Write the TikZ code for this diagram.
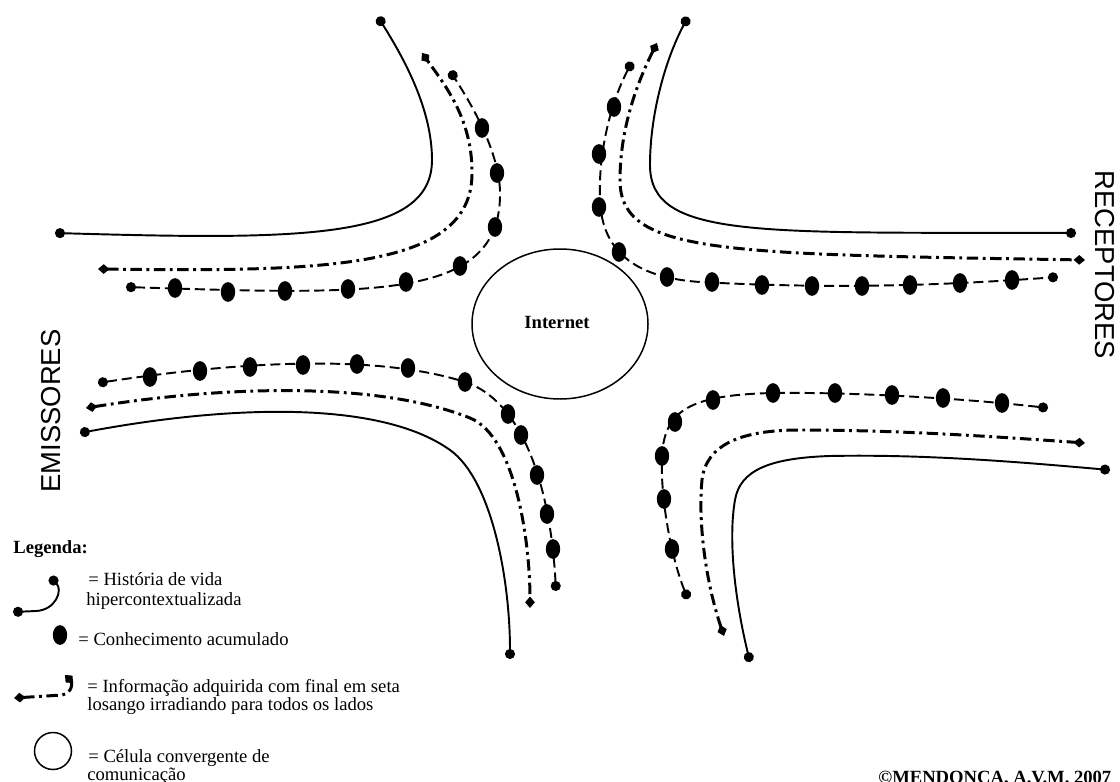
\documentclass[tikz,border=0pt]{standalone}
\usepackage{fontspec}
\setmainfont{Liberation Serif}
\newfontfamily\capsfont{Liberation Sans}
\usetikzlibrary{arrows.meta,shapes.geometric}
\newcommand{\legtext}{\fontsize{10.6pt}{12pt}\selectfont}
\newcommand{\sidetext}{\fontsize{15.6pt}{18pt}\selectfont\capsfont}
\tikzset{
  history/.style={line width=1.1pt,{Circle[length=5.7pt]}-{Circle[length=5.7pt]}},
  info/.style={line width=1.7pt,dash pattern=on 6.5pt off 2.6pt on 1.6pt off 2.6pt,
    {Diamond[length=6.5pt,width=5.5pt]}-{Diamond[length=6.5pt,width=5.5pt]}},
  knowledge/.style={line width=1.1pt,dash pattern=on 5.7pt off 2.8pt,
    {Circle[length=5.7pt]}-{Circle[length=5.7pt]}},
  bigdot/.style={fill,ellipse,inner sep=0pt,minimum width=8.2pt,minimum height=11.2pt},
  legend/.style={anchor=base west,inner sep=0pt,font=\legtext},
}
\begin{document}
\begin{tikzpicture}[scale=0.2]
\useasboundingbox (0,0) rectangle (112,-78.2);
% central cell
\node[draw,ellipse,line width=0.85pt,minimum width=35.2mm,minimum height=30mm] (net) at (56.0,-32.4) {};
\node[font=\legtext\bfseries] (netlabel) at (55.7,-32.2) {Internet};
% upper left
\coordinate (ulh1) at (5.5,-23.3);
\coordinate (ulh2) at (43.2,-16.0);
\coordinate (ulh3) at (37.8,-1.7);
\draw[history] (ulh1) .. controls (30,-24.0) and (43.2,-24.0) .. (ulh2) .. controls (43.2,-11.0) and (40.5,-6.0) .. (ulh3);
\coordinate (uli1) at (9.8,-26.9);
\coordinate (uli2) at (47.2,-17.5);
\coordinate (uli3) at (42.2,-5.3);
\draw[info] (uli1) .. controls (33,-27.2) and (47,-26.8) .. (uli2) .. controls (47.3,-12) and (44.5,-8.5) .. (uli3);
\coordinate (ulk1) at (12.6,-28.7);
\coordinate (ulk2) at (50.0,-19.0);
\coordinate (ulk3) at (45.0,-7.1);
\draw[knowledge] (ulk1) .. controls (38.0,-29.5) and (50.3,-30.0) .. (ulk2) .. controls (49.8,-15.0) and (47.2,-10.5) .. (ulk3);
\foreach \p in {{17.5,-28.8},{22.8,-29.2},{28.5,-29.1},{34.8,-28.9},{40.6,-28.2},{46.0,-26.6},{49.5,-22.7},{49.7,-17.3},{48.2,-12.8}}
  \node[bigdot] at (\p) {};
% upper right
\coordinate (urh1) at (68.8,-1.7);
\coordinate (urh2) at (65.0,-16.5);
\coordinate (urh3) at (107.6,-23.3);
\draw[history] (urh1) .. controls (66.5,-6.0) and (65.0,-11.5) .. (urh2) .. controls (65.0,-24.0) and (76,-23.2) .. (urh3);
\coordinate (uri1) at (65.7,-4.3);
\coordinate (uri2) at (62.0,-18.0);
\coordinate (uri3) at (108.5,-26.0);
\draw[info] (uri1) .. controls (63.6,-8.5) and (62.0,-13.0) .. (uri2) .. controls (62.0,-25.4) and (72,-25.4) .. (uri3);
\coordinate (urk1) at (63.2,-6.2);
\coordinate (urk2) at (60.0,-20.0);
\coordinate (urk3) at (70.0,-28.2);
\coordinate (urk4) at (105.8,-27.7);
\draw[knowledge] (urk1) .. controls (61.2,-10.0) and (59.8,-15.0) .. (urk2) .. controls (60.2,-25.5) and (64.0,-27.8) .. (urk3) .. controls (85,-29.0) and (96,-28.4) .. (urk4);
\foreach \p in {{61.4,-10.7},{59.9,-15.4},{59.9,-20.7},{61.9,-25.2},{66.7,-27.7},{71.2,-28.2},{76.2,-28.5},{81.2,-28.6},{86.2,-28.6},{91.0,-28.5},{96.0,-28.3},{101.2,-28.0}}
  \node[bigdot] at (\p) {};
% lower left
\coordinate (llh1) at (8.0,-43.3);
\coordinate (llh2) at (45.0,-45.0);
\coordinate (llh3) at (51.0,-65.9);
\draw[history] (llh1) .. controls (23.0,-40.5) and (38.0,-40.0) .. (llh2) .. controls (49.2,-48.0) and (51.0,-58.0) .. (llh3);
\coordinate (lli1) at (8.6,-40.8);
\coordinate (lli2) at (47.0,-41.8);
\coordinate (lli3) at (53.0,-60.8);
\draw[info] (lli1) .. controls (23.0,-38.5) and (38.0,-38.2) .. (lli2) .. controls (51.5,-43.6) and (53.0,-54.0) .. (lli3);
\coordinate (llk1) at (9.8,-38.3);
\coordinate (llk2) at (46.5,-38.2);
\coordinate (llk3) at (55.6,-59.1);
\draw[knowledge] (llk1) .. controls (25.0,-36.0) and (38.0,-35.5) .. (llk2) .. controls (52.0,-40.0) and (55.0,-48.0) .. (llk3);
\foreach \p in {{15.0,-37.7},{20.0,-37.1},{25.0,-36.7},{30.3,-36.5},{35.7,-36.4},{40.8,-36.8},{46.5,-38.2},{50.8,-41.4},{52.1,-43.5},{53.7,-47.5},{54.7,-51.4},{55.3,-54.9}}
  \node[bigdot] at (\p) {};
% lower right
\coordinate (lrh1) at (75.0,-66.2);
\coordinate (lrh2) at (73.5,-50.0);
\coordinate (lrh3) at (83.0,-45.6);
\coordinate (lrh4) at (111.0,-47.0);
\draw[history] (lrh1) .. controls (73.5,-60.0) and (72.8,-54.0) .. (lrh2) .. controls (74.0,-47.0) and (77.0,-45.8) .. (lrh3) .. controls (93.0,-45.4) and (103.0,-46.3) .. (lrh4);
\coordinate (lri1) at (72.4,-63.6);
\coordinate (lri2) at (70.2,-48.0);
\coordinate (lri3) at (80.0,-43.0);
\coordinate (lri4) at (108.5,-44.3);
\draw[info] (lri1) .. controls (70.5,-58.0) and (69.8,-52.0) .. (lri2) .. controls (70.6,-44.5) and (74.0,-43.0) .. (lri3) .. controls (90.0,-43.0) and (100.0,-43.7) .. (lri4);
\coordinate (lrk1) at (68.8,-59.9);
\coordinate (lrk2) at (66.2,-45.5);
\coordinate (lrk3) at (77.3,-39.3);
\coordinate (lrk4) at (104.8,-40.8);
\draw[knowledge] (lrk1) .. controls (67.2,-56.0) and (66.0,-50.0) .. (lrk2) .. controls (66.5,-41.0) and (69.0,-39.5) .. (lrk3) .. controls (85.0,-39.2) and (96.0,-39.8) .. (lrk4);
\foreach \p in {{67.2,-54.9},{66.4,-49.9},{66.2,-45.6},{67.5,-42.2},{71.3,-40.0},{77.3,-39.3},{83.5,-39.3},{89.2,-39.5},{94.3,-39.8},{100.2,-40.3}}
  \node[bigdot] at (\p) {};
% side captions
\node[font=\sidetext,rotate=90] (senders) at (5.1,-41.1) {EMISSORES};
\node[font=\sidetext,rotate=-90] (receivers) at (110.5,-26.5) {RECEPTORES};
% legend
\node[legend,font=\legtext\bfseries] (legtitle) at (1.3,-55.3) {Legenda:};
\coordinate (lg1a) at (1.3,-61.2);
\coordinate (lg1b) at (5.0,-57.7);
\draw[history] (lg1a) -- (3.6,-61.1) .. controls (5.6,-61.0) and (6.3,-59.0) .. (lg1b);
\node[legend] (lg1t) at (8.8,-58.5) {= História de vida};
\node[legend] (lg1u) at (8.6,-60.5) {hipercontextualizada};
\node[bigdot] (lg2) at (6.0,-63.5) {};
\node[legend] (lg2t) at (7.8,-64.5) {= Conhecimento acumulado};
\coordinate (lg3a) at (1.4,-69.8);
\coordinate (lg3b) at (6.5,-67.5);
\draw[info] (lg3a) -- (6.2,-69.5) .. controls (7.3,-69.3) and (7.2,-68.2) .. (lg3b);
\node[legend] (lg3t) at (8.7,-69.2) {= Informação adquirida com final em seta};
\node[legend] (lg3u) at (8.7,-71.0) {losango irradiando para todos os lados};
\draw[line width=0.85pt] (5.3,-75.1) circle (1.85);
\node[legend] (lg4t) at (8.8,-76.2) {= Célula convergente de};
\node[legend] (lg4u) at (8.7,-78.0) {comunicação};
% credit
\node[legend,font=\legtext\bfseries] (credit) at (87.8,-78.3) {©MENDONÇA, A.V.M. 2007};
\end{tikzpicture}
\end{document}
